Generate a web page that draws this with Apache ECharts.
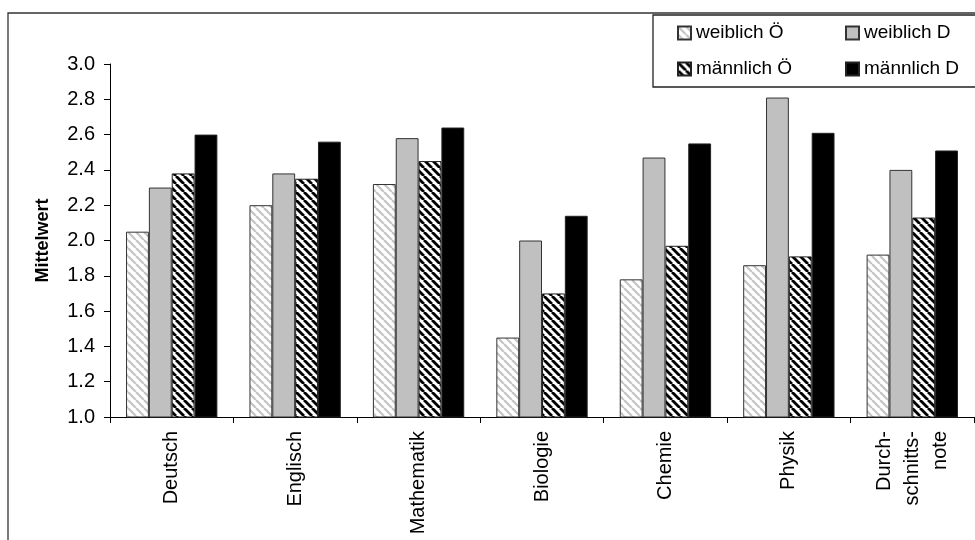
<!DOCTYPE html>
<html>
<head>
<meta charset="utf-8">
<script src="https://cdn.jsdelivr.net/npm/echarts@6/dist/echarts.min.js"></script>
<style>html,body{margin:0;padding:0;background:#fff;}#c{width:975px;height:540px;}</style>
</head>
<body>
<div id="c"></div>
<script>
const categories = ['Deutsch', 'Englisch', 'Mathematik', 'Biologie', 'Chemie', 'Physik', 'Durch-\nschnitts-\nnote'];
const seriesNames = ['weiblich Ö', 'weiblich D', 'männlich Ö', 'männlich D'];
const weiblichOe = [2.05, 2.20, 2.32, 1.45, 1.78, 1.86, 1.92];
const weiblichD  = [2.30, 2.38, 2.58, 2.00, 2.47, 2.81, 2.40];
const maennlichOe = [2.38, 2.35, 2.45, 1.70, 1.97, 1.91, 2.13];
const maennlichD  = [2.60, 2.56, 2.64, 2.14, 2.55, 2.61, 2.51];
const yTicks = { min: 1.0, max: 3.0, interval: 0.2 };

function stripe(color, lw) {
  const s = 8;
  const cv = document.createElement('canvas');
  cv.width = s; cv.height = s;
  const ctx = cv.getContext('2d');
  ctx.fillStyle = '#fff';
  ctx.fillRect(0, 0, s, s);
  ctx.strokeStyle = color;
  ctx.lineWidth = lw;
  for (const o of [-s, 0, s]) {
    ctx.beginPath();
    ctx.moveTo(o, 0);
    ctx.lineTo(o + s, s);
    ctx.stroke();
  }
  return { image: cv, repeat: 'repeat' };
}

const styles = [
  { color: stripe('#c4c4c4', 2.2), borderColor: '#333', borderWidth: 1 },
  { color: '#c0c0c0', borderColor: '#333', borderWidth: 1 },
  { color: stripe('#000', 2.8), borderColor: '#222', borderWidth: 1 },
  { color: '#000', borderColor: '#222', borderWidth: 1 }
];
const dataSets = [weiblichOe, weiblichD, maennlichOe, maennlichD];

const chart = echarts.init(document.getElementById('c'), null, { renderer: 'canvas' });
chart.setOption({
  animation: false,
  backgroundColor: '#fff',
  textStyle: { fontFamily: 'Liberation Sans, Arial, sans-serif' },
  graphic: [
    { type: 'rect', shape: { x: 8, y: 13, width: 1200, height: 800 }, style: { fill: 'none', stroke: '#333', lineWidth: 1.3 }, silent: true, z: -1 },
    { type: 'rect', shape: { x: 653, y: 15, width: 400, height: 72 }, style: { fill: '#fff', stroke: '#222', lineWidth: 1.3 }, silent: true, z: 1 }
  ],
  legend: {
    left: 672, top: 15, width: 330,
    itemWidth: 13, itemHeight: 13, itemGap: 10,
    icon: 'rect',
    z: 5,
    textStyle: { fontSize: 19, color: '#000', width: 139, lineHeight: 26, fontFamily: 'Liberation Sans, Arial, sans-serif' },
    data: seriesNames
  },
  grid: { left: 110, right: 1, top: 64, bottom: 123, containLabel: false },
  xAxis: {
    type: 'category',
    data: categories,
    axisLine: { lineStyle: { color: '#000', width: 1 } },
    axisTick: { show: true, length: 6, interval: 0, lineStyle: { color: '#000' } },
    axisLabel: { rotate: 90, interval: 0, margin: 14, fontSize: 20, color: '#000', lineHeight: 28 }
  },
  yAxis: {
    type: 'value',
    min: yTicks.min, max: yTicks.max, interval: yTicks.interval,
    name: 'Mittelwert',
    nameLocation: 'middle',
    nameGap: 58,
    nameRotate: 90,
    nameTextStyle: { fontSize: 18, fontWeight: 'bold', color: '#000' },
    axisLine: { show: true, lineStyle: { color: '#000', width: 1 } },
    axisTick: { show: true, length: 6, inside: false, lineStyle: { color: '#000' } },
    splitLine: { show: false },
    axisLabel: { fontSize: 20, color: '#000', margin: 15, formatter: v => v.toFixed(1) }
  },
  series: dataSets.map((d, i) => ({
    name: seriesNames[i],
    type: 'bar',
    data: d,
    barGap: '0%',
    barCategoryGap: '26%',
    itemStyle: styles[i]
  }))
});
</script>
</body>
</html>
